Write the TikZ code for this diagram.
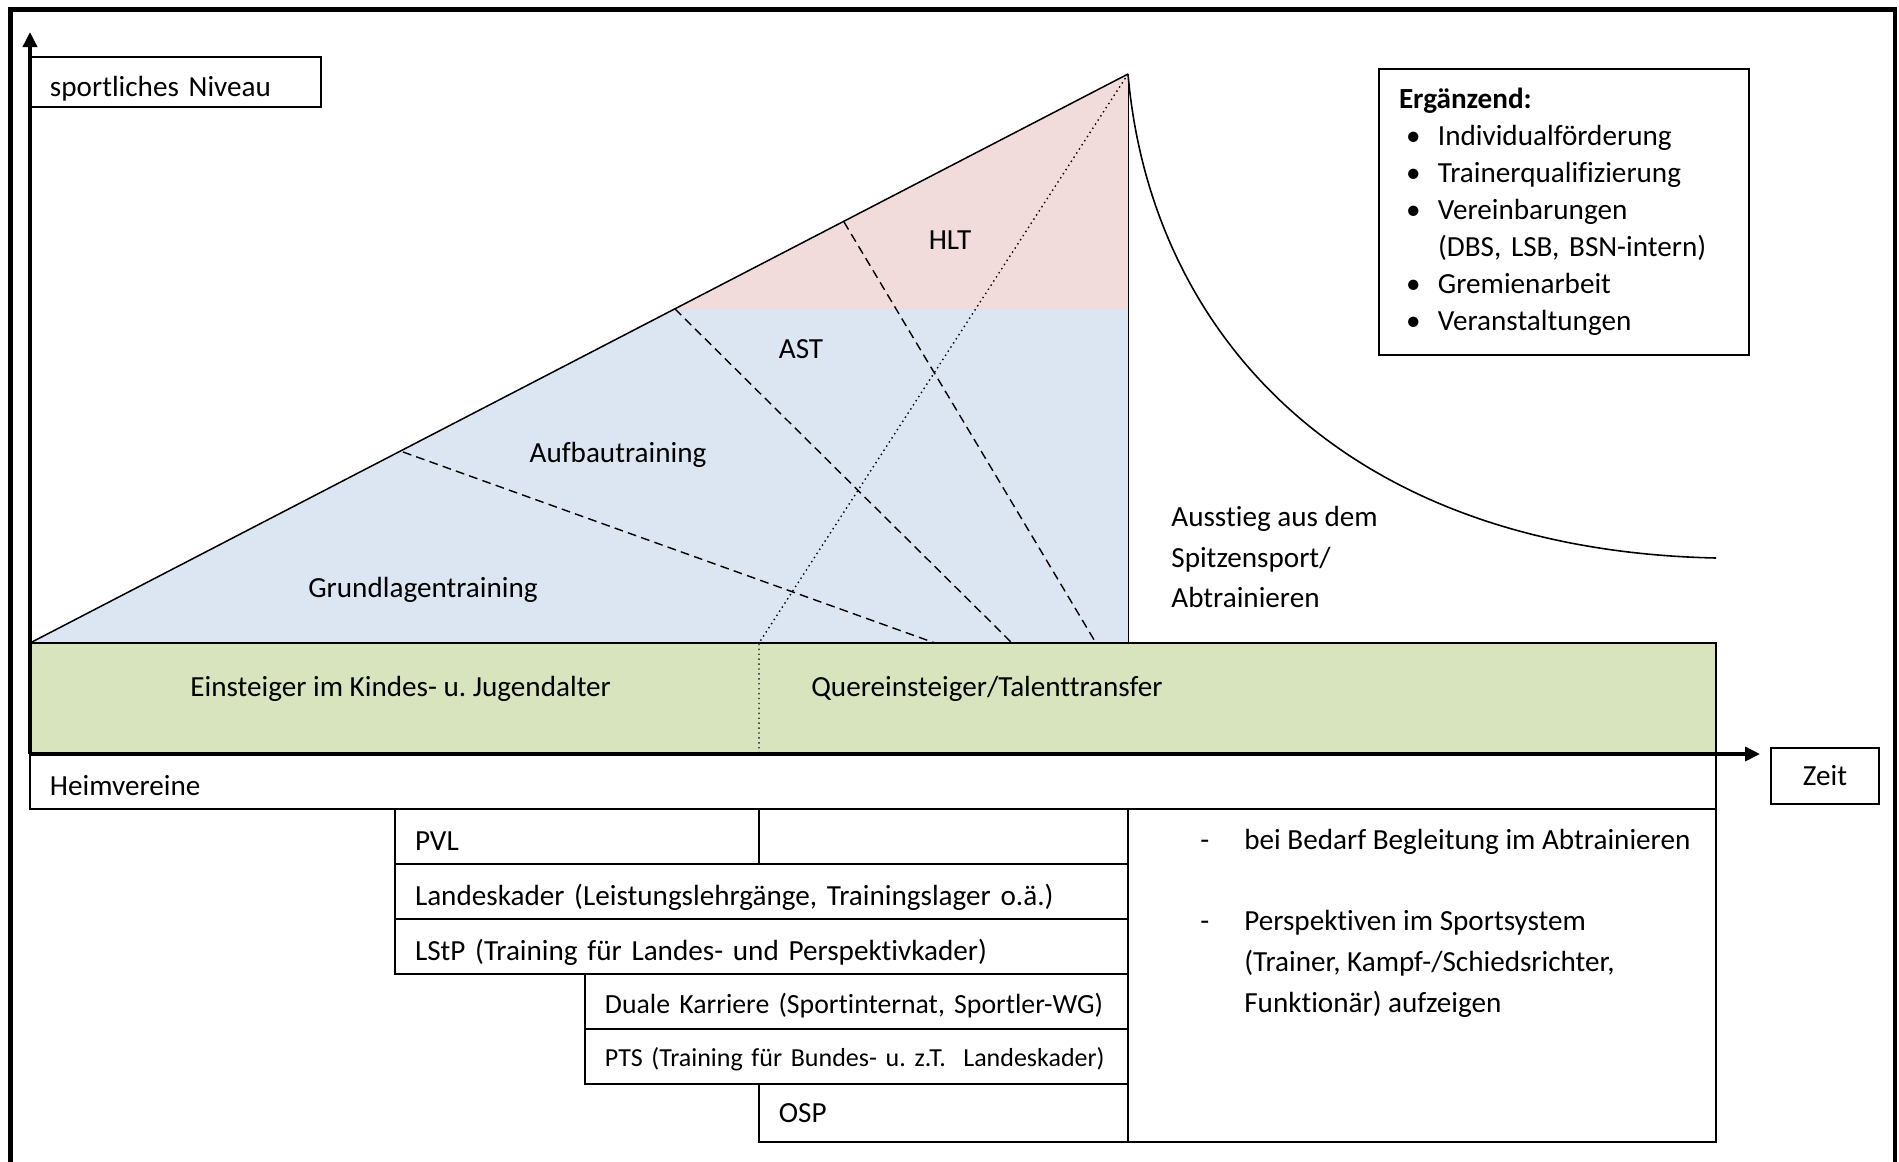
\documentclass[tikz,border=0pt]{standalone}
\usepackage{fontspec}
\setmainfont{Carlito}[Ligatures=NoCommon]
\usetikzlibrary{arrows.meta, positioning}
\definecolor{ltblue}{HTML}{DCE6F2}
\definecolor{ltpink}{HTML}{F2DCDB}
\definecolor{ltgreen}{HTML}{D7E4BD}
\frenchspacing

\begin{document}
\begin{tikzpicture}[x=0.02cm, y=-0.02cm,
    every node/.style={font=\fontsize{16.6}{23.3}\selectfont},
    zelle/.style={draw, line width=1.1pt, outer sep=0pt, anchor=north west, inner xsep=0.4cm, inner ysep=0pt, minimum height=1.1cm, text height=0.57cm, text depth=0pt, align=left},
    achse/.style={-{Triangle[length=0.3cm, width=0.28cm]}, line width=2pt},
    stufe/.style={dash pattern=on 5pt off 3pt, line width=0.8pt},
    wechsel/.style={dotted, line width=0.8pt}]
    \useasboundingbox (0,0) rectangle (1899,1161);
    \draw[line width=2.8pt] (10.5,9.5) rectangle (1895,1200);

    % Pyramide
    \coordinate (fuss) at (30,643);
    \coordinate (spitze) at (1128,74);
    \coordinate (ecke) at (1128,643);
    \fill[ltblue] (fuss) -- (spitze) -- (ecke) -- cycle;
    \fill[ltpink] (675,309) -- (spitze) -- (1128,309) -- cycle;
    \fill[ltgreen] (30,643) rectangle (1716,754);
    \draw[line width=0.8pt] (30,643) -- (1716,643) -- (1716,754);
    \draw[line width=0.85pt] (fuss) -- (spitze);
    \draw[line width=0.5pt] (spitze) -- (ecke);
    \draw[stufe] (403,452) -- (935,643);
    \draw[stufe] (675,309) -- (1012,643);
    \draw[stufe] (844,222) -- (1096,643);
    \draw[wechsel] (spitze) -- (759,643) -- (759,754);

    \node (hlt) at (950,240) {HLT};
    \node (ast) at (801,349) {AST};
    \node (aufbau) at (618,455) {Aufbautraining};
    \node (grundlage) at (423,590) {Grundlagentraining};

    % Ausstieg
    \coordinate (auslauf) at (1716,558);
    \draw[line width=0.9pt] (spitze) .. controls (1150,330) and (1340,550) .. (auslauf);
    \node[anchor=west, align=left, inner sep=0pt] (ausstieg) at (1171,557) {Ausstieg aus dem\\Spitzensport/\\Abtrainieren};

    \node[draw, line width=1.1pt, outer sep=0pt, anchor=north west, minimum height=5.72cm, text width=6.6cm, inner xsep=0.4cm, align=left, font=\fontsize{16.6}{21.1}\selectfont] (ergaenzend) at (1379,69) {%
      \begin{tabular}{@{\hspace{0.14cm}}p{0.64cm}@{}l@{}}
        \multicolumn{2}{@{}l@{}}{\textbf{Ergänzend:}}\\
        \textbullet & Individualförderung\\
        \textbullet & Trainerqualifizierung\\
        \textbullet & Vereinbarungen\\
                    & (DBS, LSB, BSN-intern)\\
        \textbullet & Gremienarbeit\\
        \textbullet & Veranstaltungen
      \end{tabular}};

    % Einstieg
    \node[anchor=west, inner sep=0pt] (einsteiger) at (190,689) {Einsteiger im Kindes- u. Jugendalter};
    \node[anchor=west, inner sep=0pt] (quereinstieg) at (811,689) {Quereinsteiger/Talenttransfer};

    % Strukturen
    \node[zelle, text width=5.02cm, minimum height=1cm] (niveau) at (30,57) {sportliches Niveau};
    \node[zelle, text width=32.92cm] (heim) at (30,754) {Heimvereine};
    \node[zelle, text width=6.48cm] (pvl) at (395,809) {PVL};
    \node[zelle, text width=6.58cm, right=0pt of pvl] (pvlfrei) {};
    \node[zelle, text width=13.86cm, below right=0pt and 0pt of pvl.south west] (landes) {Landeskader (Leistungslehrgänge, Trainingslager o.ä.)};
    \node[zelle, text width=13.86cm, below right=0pt and 0pt of landes.south west] (lstp) {LStP (Training für Landes- und Perspektivkader)};
    \node[zelle, text width=10.06cm, text height=0.47cm, below right=0pt and 3.8cm of lstp.south west, font=\fontsize{15.8}{22}\selectfont] (duale) {\mbox{Duale Karriere (Sportinternat, Sportler-WG)}};
    \node[zelle, text width=10.06cm, text height=0.41cm, below right=0pt and 0pt of duale.south west, font=\fontsize{14.8}{20}\selectfont] (pts) {\mbox{PTS (Training für Bundes- u. z.T.\ \ Landeskader)}};
    \node[zelle, text width=6.58cm, text height=0.4cm, minimum height=1.16cm, below right=0pt and 3.48cm of pts.south west] (osp) {OSP};
    \node[zelle, text width=10.96cm, minimum height=6.66cm] (abtrainieren) at (1128,809) {};

    \node[anchor=west, inner sep=0pt] (bedarf) at (1200,841) {\begin{tabular}{@{}p{0.88cm}@{}l@{}}- & bei Bedarf Begleitung im Abtrainieren\end{tabular}};
    \node[anchor=west, inner sep=0pt] (perspektive) at (1200,963) {\begin{tabular}{@{}p{0.88cm}@{}l@{}}- & Perspektiven im Sportsystem\\ & (Trainer, Kampf-/Schiedsrichter,\\ & Funktionär) aufzeigen\end{tabular}};

    % Achsen
    \coordinate (ursprung) at (30,754);
    \coordinate (yende) at (30,32);
    \coordinate (xende) at (1760,754);
    \draw[achse] (ursprung) -- (yende);
    \draw[achse] (ursprung) -- (xende);
    \node[draw, line width=1.1pt, minimum width=2.16cm, minimum height=1.12cm] (zeit) at (1825,776) {Zeit};
\end{tikzpicture}
\end{document}
